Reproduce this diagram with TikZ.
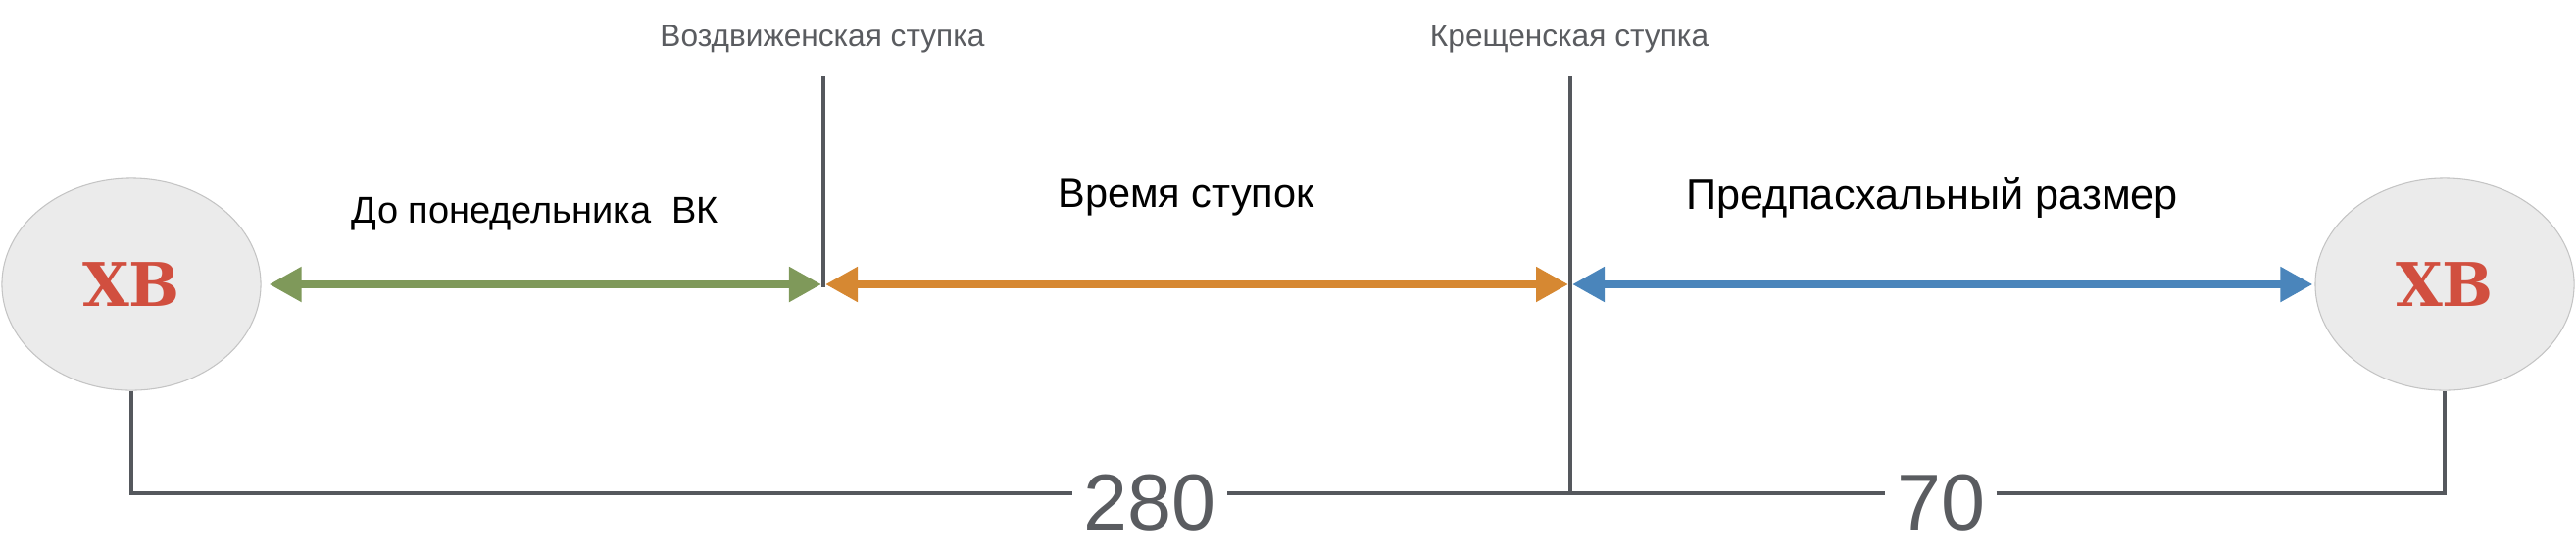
\documentclass[tikz,border=0pt]{standalone}
\usepackage{fontspec}
\setmainfont{Liberation Sans}
\newfontfamily\xbfont{DejaVu Serif}
\usepackage{xcolor}
\usetikzlibrary{arrows.meta, shapes.geometric, positioning}
\definecolor{trait}{HTML}{55585D}
\definecolor{gristexte}{HTML}{5A5C60}
\definecolor{fondxb}{HTML}{EBEBEB}
\definecolor{bordxb}{HTML}{C4C4C4}
\definecolor{rougexb}{HTML}{D14F3F}
\definecolor{vert}{HTML}{7F995A}
\definecolor{orange}{HTML}{D68832}
\definecolor{bleu}{HTML}{4A85BB}

\begin{document}
\begin{tikzpicture}[x=0.01cm, y=-0.01cm, >={Triangle[length=3.3mm, width=3.4mm]},
    fete/.style={ellipse, fill=fondxb, draw=bordxb, line width=0.3pt, minimum width=2.64cm,
        minimum height=2.16cm, inner sep=0pt, text=rougexb,
        font=\xbfont\bfseries\fontsize{17.5}{18}\selectfont},
    periode/.style={<->, line width=0.08cm},
    ligne/.style={draw=trait, line width=0.035cm},
    stupka/.style={anchor=base, text=gristexte, font=\fontsize{9}{10}\selectfont},
    titre/.style={anchor=base, font=\fontsize{11.8}{14}\selectfont},
    nombre/.style={anchor=base, text=gristexte, inner xsep=0.11cm, inner ysep=0pt,
        font=\fontsize{23}{26}\selectfont}]
    % Cadre de la figure
    \useasboundingbox (0,0) rectangle (2628,566);

    % Les deux fetes (ellipses grises)
    \node[fete] (xbL) at (134,290) {ХВ};
    \node[fete] (xbR) at (2494,290) {ХВ};

    % Les deux stupki (traits verticaux)
    \coordinate (d1haut) at (840,78);
    \coordinate (d1bas) at (840,293);
    \coordinate (d2haut) at (1602,78);
    \coordinate (bas) at (0,503);
    \draw[ligne] (d1haut) -- (d1bas);

    % Noms des stupki (en gris, au-dessus des traits)
    \node[stupka] (nomd1) at (839,47) {Воздвиженская ступка};
    \node[stupka] (nomd2) at (1601,47) {Крещенская ступка};

    % Les trois periodes (fleches de couleur)
    \coordinate (a1) at (840,290);
    \coordinate (a2) at (1602,290);
    \draw[periode, vert, shorten <=0.08cm, shorten >=0.02cm] (xbL.east) -- (a1);
    \draw[periode, orange, shorten <=0.02cm, shorten >=0.02cm] (a1) -- (a2);
    \draw[periode, bleu, shorten <=0.02cm, shorten >=0.02cm] (a2) -- (xbR.west);

    % Titres des periodes
    \node[titre, font=\fontsize{10.8}{13}\selectfont] (t1) at (546,227) {До понедельника \ ВК};
    \node[titre] (t2) at (1210,211) {Время ступок};
    \node[titre, font=\fontsize{12.3}{14}\selectfont] (t3) at (1971,213) {Предпасхальный размер};

    % Nombres de jours
    \node[nombre] (n280) at (1173,540) {280};
    \node[nombre] (n70) at (1980,540) {70};

    % Ligne du bas (en gris fonce)
    \draw[ligne] (d2haut) -- (d2haut |- bas);
    \draw[ligne] (xbL.south) |- (n280.west |- bas);
    \draw[ligne] (n280.east |- bas) -- (n70.west |- bas);
    \draw[ligne] (n70.east |- bas) -| (xbR.south);

\end{tikzpicture}
\end{document}
